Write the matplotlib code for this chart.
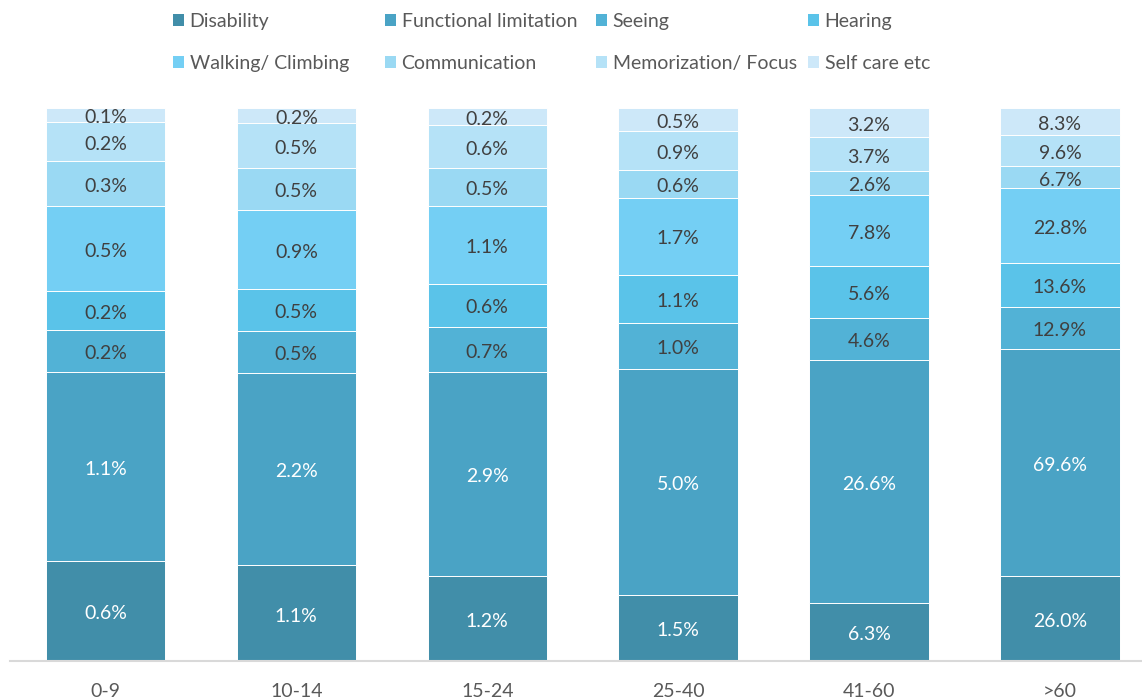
import matplotlib
matplotlib.use("Agg")
import matplotlib.pyplot as plt
from matplotlib.patches import Patch
import numpy as np

plt.rcParams['font.family'] = ['Lato', 'DejaVu Sans']

age_groups = ['0-9', '10-14', '15-24', '25-40', '41-60', '>60']
series = ['Disability', 'Functional limitation', 'Seeing', 'Hearing',
          'Walking/ Climbing', 'Communication', 'Memorization/ Focus', 'Self care etc']

disability   = [0.58, 1.09, 1.21, 1.46, 6.3, 26.0]
functional   = [1.10, 2.20, 2.90, 5.02, 26.6, 69.6]
seeing       = [0.24, 0.48, 0.65, 1.02, 4.6, 12.9]
hearing      = [0.23, 0.47, 0.61, 1.07, 5.6, 13.6]
walking      = [0.49, 0.91, 1.11, 1.71, 7.8, 22.8]
communicate  = [0.26, 0.48, 0.53, 0.61, 2.6, 6.7]
memorization = [0.23, 0.51, 0.62, 0.87, 3.7, 9.6]
self_care    = [0.08, 0.17, 0.24, 0.51, 3.2, 8.3]

colors = ['#418ea9', '#4aa3c5', '#52b2d6', '#5ac3e9',
          '#74cff4', '#9ad9f3', '#b5e2f7', '#cde8f9']
label_colors = ['white', 'white'] + ['#404040'] * 6

data = np.array([disability, functional, seeing, hearing, walking,
                 communicate, memorization, self_care])
shares = data / data.sum(axis=0) * 100

fig = plt.figure(figsize=(11.42, 7.0), dpi=100)
ax = fig.add_axes([10 / 1142, 39 / 700, 1132 / 1142, 553 / 700])

x = np.arange(len(age_groups))
bottom = np.zeros(len(age_groups))
handles = []
for i, name in enumerate(series):
    bars = ax.bar(x, shares[i], 0.625, bottom=bottom, color=colors[i],
                  edgecolor='white', linewidth=0.7, label=name)
    labels = [f'{v:.1f}%' for v in data[i]]
    txts = ax.bar_label(bars, labels=labels, label_type='center',
                        color=label_colors[i], fontsize=14)
    for t in txts:
        t.set_y(t.get_position()[1] - 2)
    bottom += shares[i]
    handles.append(Patch(facecolor=colors[i], edgecolor='none', label=name))

ax.set_xlim(-0.5, 5.43)
ax.set_ylim(0, 100)
ax.set_yticks([])
ax.set_xticks(x)
ax.set_xticklabels(age_groups, fontsize=14, color='#595959')
ax.tick_params(axis='x', length=0, pad=16)
for s in ['top', 'right', 'left']:
    ax.spines[s].set_visible(False)
ax.spines['bottom'].set_color('#d9d9d9')
ax.spines['bottom'].set_linewidth(1.5)

# legend: 4 equal columns, 2 rows
col_x = [173, 385, 596, 808]
for c in range(4):
    leg = fig.legend(handles=[handles[c], handles[c + 4]], loc='upper left',
                     bbox_to_anchor=(col_x[c] / 1142, 1 - 13 / 700),
                     frameon=False, fontsize=14, borderpad=0, borderaxespad=0,
                     handlelength=0.55, handleheight=0.55, handletextpad=0.3,
                     labelspacing=1.27, labelcolor='#595959')

fig.savefig('out.png', dpi=100)
